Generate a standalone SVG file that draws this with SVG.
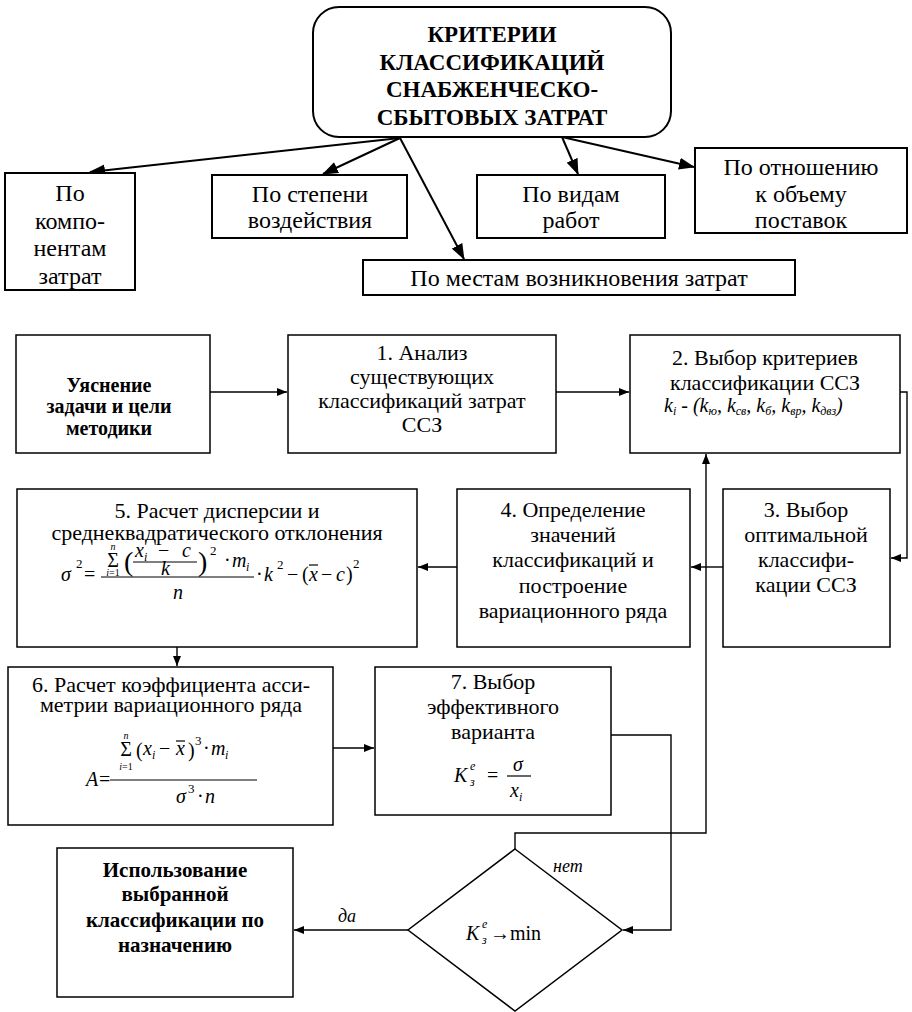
<svg xmlns="http://www.w3.org/2000/svg" width="912" height="1012" viewBox="0 0 912 1012" font-family="'Liberation Serif', 'Liberation Sans', sans-serif">
<defs>
<style>
.box{fill:#fff;stroke:#000;stroke-width:2}
.bx{fill:#fff;stroke:#000;stroke-width:1.5}
.c{fill:none;stroke:#000;stroke-width:2}
.c2{fill:none;stroke:#000;stroke-width:1.4}
.bar{stroke:#000;stroke-width:1.2}
text{font-family:'Liberation Serif','Liberation Sans',sans-serif;fill:#000}
.ttl{font-size:23px;font-weight:bold;text-anchor:middle}
.t24{font-size:24px;text-anchor:middle}
.t22{font-size:22px;text-anchor:middle}
.tb{font-size:20px;font-weight:bold;text-anchor:middle}
.tb21{font-size:21px;font-weight:bold;text-anchor:middle}
.mi{font-style:italic;font-size:20px}
.m{font-size:20px}
.sub{font-size:12px;font-style:italic}
.sup{font-size:13px}
.lim{font-size:10px;text-anchor:middle}
.big{font-size:28px}
.sig{font-size:20px;text-anchor:middle}
.lbl{font-style:italic;font-size:18px}
</style>
<marker id="ah" markerUnits="userSpaceOnUse" markerWidth="16" markerHeight="12" refX="15" refY="6" orient="auto"><path d="M0,0 L16,6 L0,12 z" fill="#000"/></marker>
<marker id="as" markerUnits="userSpaceOnUse" markerWidth="10" markerHeight="8" refX="10" refY="4" orient="auto"><path d="M0,0 L10,4 L0,8 z" fill="#000"/></marker>
</defs>
<rect width="912" height="1012" fill="#fff"/>

<g id="connectors">
<line class="c" x1="400" y1="138" x2="90" y2="172" marker-end="url(#ah)"/>
<line class="c" x1="400" y1="138" x2="323" y2="174" marker-end="url(#ah)"/>
<line class="c" x1="400" y1="138" x2="464" y2="259" marker-end="url(#ah)"/>
<line class="c" x1="562" y1="137" x2="578" y2="174" marker-end="url(#ah)"/>
<line class="c" x1="562" y1="137" x2="694" y2="167" marker-end="url(#ah)"/>
<line class="c2" x1="210" y1="392" x2="287" y2="392" marker-end="url(#as)"/>
<line class="c2" x1="556" y1="392" x2="629" y2="392" marker-end="url(#as)"/>
<polyline class="c2" points="900,392 907,392 907,558 891,558" marker-end="url(#as)"/>
<line class="c2" x1="723" y1="567" x2="691" y2="567" marker-end="url(#as)"/>
<line class="c2" x1="457" y1="567" x2="418" y2="567" marker-end="url(#as)"/>
<line class="c2" x1="177" y1="647" x2="177" y2="666" marker-end="url(#as)"/>
<line class="c2" x1="333" y1="748" x2="374" y2="748" marker-end="url(#as)"/>
<polyline class="c2" points="611,735 671,735 671,930 623,930" marker-end="url(#as)"/>
<polyline class="c2" points="515,849 515,833 706,833 706,454" marker-end="url(#as)"/>
<line class="c2" x1="408" y1="930" x2="294" y2="930" marker-end="url(#as)"/>
<text class="lbl" x="553" y="872">нет</text>
<text class="lbl" x="338" y="922">да</text>
</g>

<g id="title">
<rect class="box" x="313" y="7" width="358" height="130" rx="26"/>
<text class="ttl" x="492" y="42">КРИТЕРИИ</text>
<text class="ttl" x="492" y="70">КЛАССИФИКАЦИЙ</text>
<text class="ttl" x="492" y="97">СНАБЖЕНЧЕСКО-</text>
<text class="ttl" x="492" y="125">СБЫТОВЫХ ЗАТРАТ</text>
</g>

<g id="n-components">
<rect class="box" x="5" y="173" width="130" height="117"/>
<text class="t24" x="70" y="201">По</text>
<text class="t24" x="70" y="229">компо-</text>
<text class="t24" x="70" y="256">нентам</text>
<text class="t24" x="70" y="284">затрат</text>
</g>

<g id="n-degree">
<rect class="box" x="212" y="175" width="195" height="63"/>
<text class="t24" x="310" y="202">По степени</text>
<text class="t24" x="310" y="228">воздействия</text>
</g>

<g id="n-places">
<rect class="box" x="363" y="260" width="432" height="35"/>
<text class="t24" x="579" y="286">По местам возникновения затрат</text>
</g>

<g id="n-works">
<rect class="box" x="477" y="175" width="188" height="63"/>
<text class="t24" x="571" y="202">По видам</text>
<text class="t24" x="571" y="228">работ</text>
</g>

<g id="n-volume">
<rect class="box" x="695" y="148" width="212" height="85"/>
<text class="t24" x="801" y="175">По отношению</text>
<text class="t24" x="801" y="202">к объему</text>
<text class="t24" x="801" y="228">поставок</text>
</g>

<g id="s0">
<rect class="bx" x="16" y="335" width="194" height="118"/>
<text class="tb" x="109" y="392">Уяснение</text>
<text class="tb" x="109" y="413">задачи и цели</text>
<text class="tb" x="109" y="435">методики</text>
</g>

<g id="s1">
<rect class="bx" x="288" y="335" width="268" height="118"/>
<text class="t22" x="422" y="360">1. Анализ</text>
<text class="t22" x="422" y="384">существующих</text>
<text class="t22" x="422" y="408">классификаций затрат</text>
<text class="t22" x="422" y="432">ССЗ</text>
</g>

<g id="s2">
<rect class="bx" x="630" y="335" width="270" height="118"/>
<text class="t22" x="765" y="365">2. Выбор критериев</text>
<text class="t22" x="765" y="390">классификации ССЗ</text>
<text class="mi" x="664" y="412">k<tspan class="sub" dy="3">i</tspan><tspan dy="-3"> - (k</tspan><tspan class="sub" dy="3">ю</tspan><tspan dy="-3">,  k</tspan><tspan class="sub" dy="3">св</tspan><tspan dy="-3">,  k</tspan><tspan class="sub" dy="3">б</tspan><tspan dy="-3">,  k</tspan><tspan class="sub" dy="3">вр</tspan><tspan dy="-3">,  k</tspan><tspan class="sub" dy="3">двз</tspan><tspan dy="-3">)</tspan></text>
</g>

<g id="s3">
<rect class="bx" x="723" y="489" width="167" height="158"/>
<text class="t22" x="806" y="517">3. Выбор</text>
<text class="t22" x="806" y="542">оптимальной</text>
<text class="t22" x="806" y="567">классифи-</text>
<text class="t22" x="806" y="592">кации ССЗ</text>
</g>

<g id="s4">
<rect class="bx" x="457" y="489" width="233" height="158"/>
<text class="t22" x="573" y="517">4. Определение</text>
<text class="t22" x="573" y="542">значений</text>
<text class="t22" x="573" y="567">классификаций и</text>
<text class="t22" x="573" y="593">построение</text>
<text class="t22" x="573" y="618">вариационного ряда</text>
</g>

<g id="s5">
<rect class="bx" x="17" y="489" width="400" height="158"/>
<text class="t22" x="217" y="518">5. Расчет дисперсии и</text>
<text class="t22" x="217" y="540">среднеквадратического отклонения</text>
<text class="mi" x="61" y="581" font-size="22">σ</text>
<text class="sup" x="76" y="568">2</text>
<text class="m" x="84" y="581">=</text>
<line class="bar" x1="101" y1="577" x2="254" y2="577"/>
<text class="sig" x="113" y="567">Σ</text>
<text class="lim" font-style="italic" x="113" y="550">n</text>
<text class="lim" x="113" y="576"><tspan font-style="italic">i</tspan>=1</text>
<text class="big" x="124" y="571">(</text>
<text class="mi" x="135" y="557" font-size="19">x</text>
<text class="sub" x="144" y="561">i</text>
<text class="m" x="158" y="557" font-size="19">−</text>
<text class="mi" x="182" y="557" font-size="19">c</text>
<line class="bar" x1="133" y1="562" x2="197" y2="562"/>
<text class="mi" x="161" y="575" font-size="19">k</text>
<text class="big" x="198" y="571">)</text>
<text class="sup" x="210" y="555">2</text>
<text class="m" x="224" y="567">·</text>
<text class="mi" x="232" y="567" font-size="19">m</text>
<text class="sub" x="246" y="571">i</text>
<text class="mi" x="173" y="599">n</text>
<text class="m" x="256" y="581">·</text>
<text class="mi" x="264" y="581">k</text>
<text class="sup" x="277" y="569">2</text>
<text class="m" x="287" y="581">−</text>
<text class="m" x="302" y="581">(</text>
<text class="mi" x="309" y="581">x</text>
<line class="bar" x1="309" y1="565" x2="318" y2="565"/>
<text class="m" x="321" y="581">−</text>
<text class="mi" x="336" y="581">c</text>
<text class="m" x="346" y="581">)</text>
<text class="sup" x="353" y="568">2</text>
</g>

<g id="s6">
<rect class="bx" x="8" y="667" width="325" height="158"/>
<text class="t22" x="171" y="692">6. Расчет коэффициента асси-</text>
<text class="t22" x="171" y="712">метрии вариационного ряда</text>
<text class="mi" x="86" y="786">A</text>
<text class="m" x="99" y="786">=</text>
<line class="bar" x1="110" y1="780" x2="257" y2="780"/>
<text class="sig" x="126" y="756">Σ</text>
<text class="lim" font-style="italic" x="126" y="739">n</text>
<text class="lim" x="126" y="770"><tspan font-style="italic">i</tspan>=1</text>
<text class="m" x="136" y="757">(</text>
<text class="mi" x="143" y="755" font-size="19">x</text>
<text class="sub" x="152" y="759">i</text>
<text class="m" x="159" y="755" font-size="19">−</text>
<text class="mi" x="176" y="755" font-size="19">x</text>
<line class="bar" x1="176" y1="741" x2="185" y2="741"/>
<text class="m" x="188" y="757">)</text>
<text class="sup" x="195" y="745">3</text>
<text class="m" x="203" y="755">·</text>
<text class="mi" x="211" y="755" font-size="19">m</text>
<text class="sub" x="225" y="759">i</text>
<text class="mi" x="176" y="803" font-size="19">σ</text>
<text class="sup" x="188" y="793">3</text>
<text class="m" x="197" y="803">·</text>
<text class="mi" x="205" y="803" font-size="19">n</text>
</g>

<g id="s7">
<rect class="bx" x="375" y="667" width="236" height="148"/>
<text class="t22" x="493" y="689">7. Выбор</text>
<text class="t22" x="493" y="714">эффективного</text>
<text class="t22" x="493" y="739">варианта</text>
<text class="mi" x="454" y="782">K</text>
<text class="sub" x="470" y="770">e</text>
<text class="sub" x="470" y="786">з</text>
<text class="m" x="487" y="782">=</text>
<line class="bar" x1="507" y1="776" x2="531" y2="776"/>
<text class="mi" x="513" y="771" font-size="19">σ</text>
<text class="mi" x="510" y="797" font-size="19">x</text>
<text class="sub" x="519" y="801">i</text>
</g>

<g id="decision">
<polygon class="bx" points="515,849 622,930 515,1011 408,930"/>
<text class="mi" x="466" y="940" font-size="21">K</text>
<text class="sub" x="482" y="928">e</text>
<text class="sub" x="482" y="944">з</text>
<text class="m" x="490" y="940" font-size="22">→min</text>
</g>

<g id="s8">
<rect class="bx" x="57" y="848" width="236" height="149"/>
<text class="tb21" x="175" y="877">Использование</text>
<text class="tb21" x="175" y="901">выбранной</text>
<text class="tb21" x="175" y="927">классификации по</text>
<text class="tb21" x="175" y="952">назначению</text>
</g>
</svg>
